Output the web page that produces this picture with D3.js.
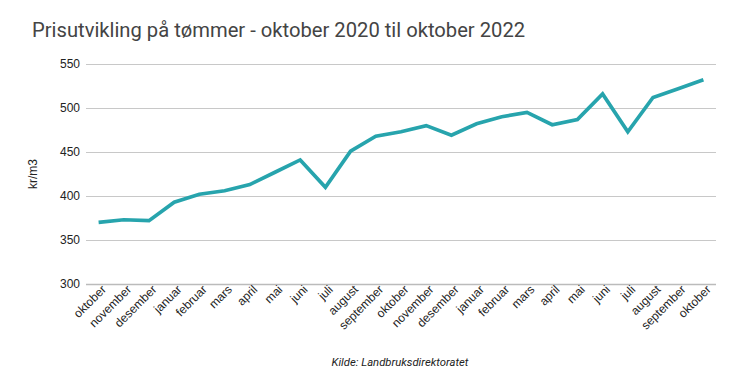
<!DOCTYPE html>
<html>
<head>
<meta charset="utf-8">
<script src="https://cdn.jsdelivr.net/npm/d3@7"></script>
<style>
  body { margin: 0; background: #fff; }
  svg { display: block; font-family: Roboto, Arial, sans-serif; }
</style>
</head>
<body>
<svg id="chart" width="736" height="390"></svg>
<script>
// months oktober 2020 .. oktober 2022
const months = [
  'oktober', 'november', 'desember', 'januar', 'februar', 'mars', 'april', 'mai', 'juni', 'juli', 'august', 'september',
  'oktober', 'november', 'desember', 'januar', 'februar', 'mars', 'april', 'mai', 'juni', 'juli', 'august', 'september',
  'oktober'
];
const prices = [
  370, 373, 372, 393, 402, 406, 413, 427, 441, 410, 451, 468,
  473, 480, 469, 482, 490, 495, 481, 487, 516, 473, 512, 522,
  532
];
const yTicks = [300, 350, 400, 450, 500, 550];

const margin = {top: 64, right: 20, bottom: 106, left: 86},
      width = 736, height = 390;
const labelFont = '"Liberation Sans", Arial, sans-serif';

const svg = d3.select('#chart');

const x = d3.scaleBand()
    .domain(d3.range(months.length))
    .range([margin.left, width - margin.right]);

const y = d3.scaleLinear()
    .domain([300, 550])
    .range([height - margin.bottom, margin.top]);

// title
svg.append('text')
    .attr('x', 32)
    .attr('y', 37)
    .attr('font-size', 20.2)
    .attr('fill', '#444')
    .text('Prisutvikling på tømmer - oktober 2020 til oktober 2022');

// grid + y labels
const yAxis = svg.append('g')
    .attr('transform', `translate(${margin.left},0)`)
    .call(d3.axisLeft(y)
        .tickValues(yTicks)
        .tickSize(-(width - margin.left - margin.right))
        .tickPadding(6));
yAxis.select('.domain').remove();
yAxis.selectAll('.tick line').attr('stroke', '#c8c8c8');
yAxis.selectAll('.tick text')
    .attr('font-size', 12)
    .attr('fill', '#222')
    .attr('font-family', labelFont);
yAxis.selectAll('.tick').filter(d => d === 300).select('line')
    .attr('stroke', '#bbb').attr('stroke-width', 1.5);

svg.append('text')
    .attr('transform', `translate(37,${(margin.top + height - margin.bottom) / 2}) rotate(-90)`)
    .attr('text-anchor', 'middle')
    .attr('font-size', 12)
    .attr('fill', '#222')
    .attr('font-family', labelFont)
    .text('kr/m3');

// x labels
const xAxis = svg.append('g')
    .attr('transform', `translate(0,${height - margin.bottom})`)
    .call(d3.axisBottom(x).tickFormat(i => months[i]).tickSize(0).tickPadding(6));
xAxis.select('.domain').remove();
xAxis.selectAll('.tick text')
    .attr('font-size', 12)
    .attr('fill', '#222')
    .attr('font-family', labelFont)
    .attr('text-anchor', 'end')
    .attr('dy', 0)
    .attr('transform', 'translate(4,2) rotate(-45)');

// line
const line = d3.line()
    .x((d, i) => x(i) + x.bandwidth() / 2)
    .y(d => y(d));

svg.append('path')
    .datum(prices)
    .attr('fill', 'none')
    .attr('stroke', '#27a4ad')
    .attr('stroke-width', 3.7)
    .attr('stroke-linejoin', 'miter')
    .attr('d', line);

// source
svg.append('text')
    .attr('x', 400)
    .attr('y', 366)
    .attr('text-anchor', 'middle')
    .attr('font-size', 11.3)
    .attr('font-style', 'italic')
    .attr('fill', '#222')
    .text('Kilde: Landbruksdirektoratet');
</script>
</body>
</html>
